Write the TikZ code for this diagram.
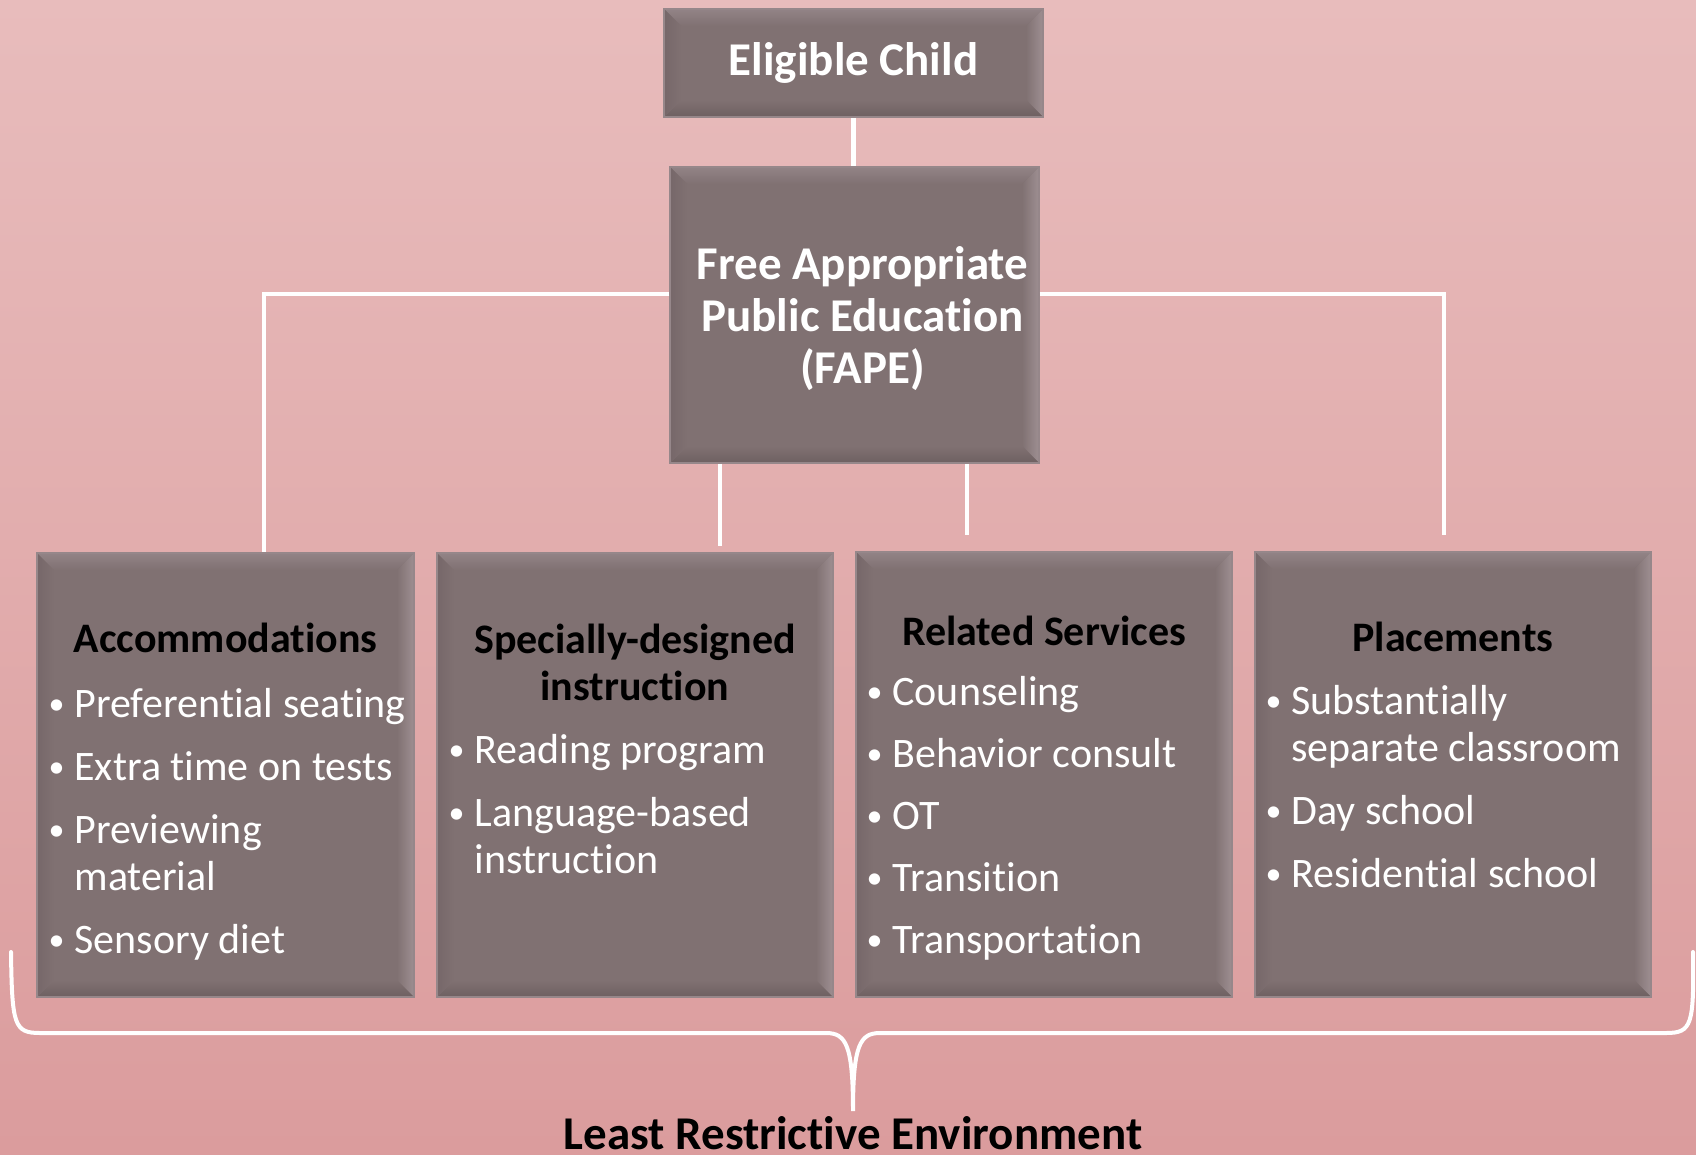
\documentclass[tikz,border=0pt]{standalone}
\usepackage{fontspec}
\setmainfont{Carlito}[RawFeature=-liga,RawFeature=-clig,RawFeature=-calt,RawFeature=-dlig]
\usetikzlibrary{calc}

\definecolor{bgtop}{RGB}{232,188,188}
\definecolor{bgbot}{RGB}{219,156,157}
\definecolor{face}{RGB}{128,113,114}
\definecolor{rim}{RGB}{150,135,138}
\definecolor{bevtop}{RGB}{146,131,134}
\definecolor{bevright}{RGB}{158,143,146}
\definecolor{bevbot}{RGB}{110,96,97}
\definecolor{bevleft}{RGB}{118,103,105}

\newcommand{\bul}{\llap{\raisebox{3pt}{\fontsize{32}{32}\selectfont\textbullet}\hspace{10pt}}}

\begin{document}
\begin{tikzpicture}[x=1pt,y=-1pt]
	\tikzstyle{box}=[rectangle,draw=rim,line width=1.5pt,fill=face,inner sep=0pt,path picture={
		\coordinate (pnw) at (path picture bounding box.north west);
		\coordinate (pne) at (path picture bounding box.north east);
		\coordinate (pse) at (path picture bounding box.south east);
		\coordinate (psw) at (path picture bounding box.south west);
		\coordinate (qnw) at ([shift={(17pt,-17pt)}]pnw);
		\coordinate (qne) at ([shift={(-17pt,-17pt)}]pne);
		\coordinate (qse) at ([shift={(-17pt,17pt)}]pse);
		\coordinate (qsw) at ([shift={(17pt,17pt)}]psw);
		\shade [top color=bevtop,bottom color=face] (pnw) -- (pne) -- (qne) -- (qnw) -- cycle;
		\shade [left color=face,right color=bevright] (pne) -- (pse) -- (qse) -- (qne) -- cycle;
		\shade [top color=face,bottom color=bevbot] (pse) -- (psw) -- (qsw) -- (qse) -- cycle;
		\shade [left color=bevleft,right color=face] (psw) -- (pnw) -- (qnw) -- (qsw) -- cycle;
	}]
	\tikzstyle{title}=[text=white,font=\fontsize{47}{52}\selectfont\bfseries,align=center,inner sep=0pt]
	\tikzstyle{head}=[text=black,font=\fontsize{42}{47}\selectfont\bfseries,align=center,inner sep=0pt]
	\tikzstyle{items}=[text=white,font=\fontsize{42}{47}\selectfont,align=left,inner sep=0pt,anchor=north west]
	\tikzstyle{link}=[draw=white,line width=4.5pt]
	\shade [top color=bgtop,bottom color=bgbot] (0,0) rectangle (1696,1154);
	\useasboundingbox (0,0) rectangle (1696,1154);
	% boxes
	\node (ec) at (853.5,63) [box,title,minimum width=379,minimum height=108] {Eligible Child};
	\node (fape) at (854.5,315) [box,minimum width=369,minimum height=296] {};
	\node (acc) at (225.5,775) [box,minimum width=377,minimum height=444] {};
	\node (sdi) at (635,775) [box,minimum width=396,minimum height=444] {};
	\node (rel) at (1044,774.5) [box,minimum width=376,minimum height=445] {};
	\node (plc) at (1453,774.5) [box,minimum width=396,minimum height=445] {};
	\node (fape-t) at ([shift={(8pt,-76.6pt)}]fape.north) [title,anchor=north] {\strut Free Appropriate\\Public Education\\(FAPE)};
	% headings
	\node (acc-h) at ([yshift=-100pt]acc.north) [head,anchor=base] {Accommodations};
	\node (sdi-h) at ([yshift=-68pt]sdi.north) [head,anchor=north] {\strut Specially-designed\\instruction};
	\node (rel-h) at ([yshift=-94pt]rel.north) [head,anchor=base] {Related Services};
	\node (plc-h) at ([yshift=-100pt]plc.north) [head,anchor=base] {Placements};
	% lists
	\node (acc-l) at ([shift={(38pt,-132pt)}]acc.north west) [items] {\strut\bul Preferential seating\\[16pt]
		\bul Extra time on tests\\[16pt]
		\bul Previewing\\material\\[16pt]
		\bul Sensory diet};
	\node (sdi-l) at ([shift={(38pt,-178pt)}]sdi.north west) [items] {\strut\bul Reading program\\[16pt]
		\bul Language-based\\instruction};
	\node (rel-l) at ([shift={(37pt,-121pt)}]rel.north west) [items] {\strut\bul Counseling\\[15pt]
		\bul Behavior consult\\[15pt]
		\bul OT\\[15pt]
		\bul Transition\\[15pt]
		\bul Transportation};
	\node (plc-l) at ([shift={(37pt,-130pt)}]plc.north west) [items] {\strut\bul Substantially\\separate classroom\\[16pt]
		\bul Day school\\[16pt]
		\bul Residential school};
	\node (lre) at (853,1149) [title,text=black,anchor=base] {Least Restrictive Environment};
	% connectors
	\coordinate (lk) at (264,294);
	\coordinate (rk) at (1444,294);
	\coordinate (rb) at (1444,535);
	\coordinate (m1) at (720,546);
	\coordinate (m2) at (967,535);
	\draw [link] (ec.south) -- (ec.south |- fape.north);
	\draw [link] (fape.west |- lk) -- (lk) -- (lk |- acc.north);
	\draw [link] (fape.east |- rk) -- (rk) -- (rb);
	\draw [link] (fape.south -| m1) -- (m1);
	\draw [link] (fape.south -| m2) -- (m2);
	% brace
	\coordinate (bl) at (11,952);
	\coordinate (br) at (1693,952);
	\coordinate (tip) at (853,1111);
	\draw [link,line width=4pt,line cap=round] (bl) .. controls (12,1025) and (14,1033) .. (40,1033) -- (826,1033)
		.. controls (846,1033) and (853,1045) .. (tip) .. controls (853,1045) and (860,1033) .. (880,1033)
		-- (1666,1033) .. controls (1692,1033) and (1694,1025) .. (br);
\end{tikzpicture}
\end{document}
